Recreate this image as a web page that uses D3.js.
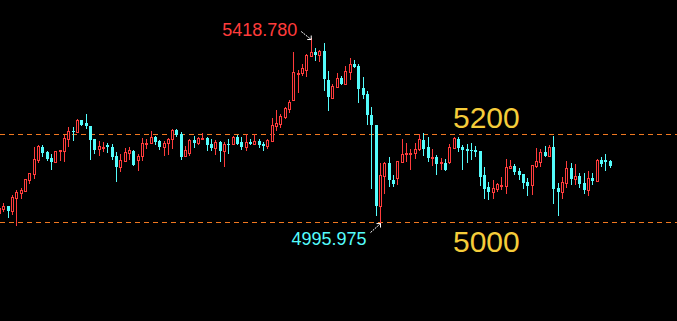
<!DOCTYPE html>
<html><head><meta charset="utf-8">
<script src="https://cdn.jsdelivr.net/npm/d3@7"></script>
<style>html,body{margin:0;padding:0;background:#000;overflow:hidden}svg{display:block}</style>
</head><body><svg id="c" width="677" height="321"></svg>
<script>
const opens=[5021.8,5030.2,5036.3,5026.3,5055.9,5066.6,5071.8,5096.8,5109.1,5141.6,5171.8,5159.1,5146.1,5137.7,5161.3,5162.7,5190.0,5206.8,5205.9,5231.8,5225.0,5218.8,5189.3,5165.9,5169.5,5175.0,5171.1,5150.0,5125.7,5140.0,5158.2,5162.0,5142.3,5151.3,5178.6,5180.2,5193.8,5184.7,5171.8,5180.2,5188.6,5209.7,5200.7,5151.3,5156.8,5187.0,5180.9,5190.0,5191.6,5177.9,5169.5,5182.5,5162.7,5178.6,5178.6,5193.8,5182.5,5171.8,5183.2,5178.0,5184.7,5178.6,5174.1,5185.4,5219.5,5223.4,5238.6,5257.5,5277.2,5337.0,5340.0,5346.8,5378.6,5387.0,5380.2,5390.0,5323.4,5283.1,5308.2,5328.6,5315.0,5342.3,5360.4,5355.2,5305.2,5290.9,5243.8,5221.1,5037.7,5105.9,5135.4,5096.1,5101.3,5137.7,5154.5,5154.5,5158.2,5165.9,5187.0,5171.8,5146.1,5148.4,5134.1,5135.4,5137.7,5169.5,5189.3,5171.1,5167.3,5165.0,5164.3,5162.0,5107.5,5080.9,5069.5,5075.7,5082.5,5083.2,5124.1,5127.9,5116.6,5109.1,5091.6,5084.1,5128.6,5137.7,5159.1,5151.3,5171.1,5077.3,5069.5,5090.0,5123.4,5099.1,5105.2,5089.3,5073.4,5100.7,5094.5,5141.6,5141.6,5139.3];
const highs=[5039.3,5043.2,5036.3,5062.0,5073.4,5078.6,5098.5,5112.0,5171.1,5176.3,5176.3,5161.3,5154.5,5162.0,5164.0,5199.1,5215.9,5215.9,5234.1,5232.5,5246.1,5219.0,5189.5,5184.1,5182.5,5179.5,5177.3,5159.1,5155.2,5168.8,5171.1,5164.3,5155.2,5191.6,5188.6,5207.5,5196.1,5187.0,5185.4,5191.6,5212.0,5212.0,5205.2,5173.4,5190.0,5196.1,5193.8,5202.9,5193.8,5189.3,5187.0,5184.7,5182.5,5189.3,5196.1,5198.4,5193.8,5200.0,5190.0,5200.0,5189.3,5181.8,5189.3,5237.0,5255.2,5246.8,5262.7,5277.9,5387.0,5346.1,5359.7,5383.2,5418.78,5396.1,5392.2,5407.5,5343.8,5313.6,5339.3,5332.5,5355.2,5373.4,5368.8,5359.7,5330.9,5298.4,5262.0,5222.0,5134.1,5136.0,5147.7,5107.5,5140.0,5189.3,5180.2,5166.6,5180.9,5200.7,5203.6,5193.2,5166.6,5152.9,5145.4,5143.8,5178.6,5193.2,5193.2,5176.3,5178.6,5180.2,5172.7,5163.0,5125.7,5091.6,5096.1,5088.6,5102.9,5143.8,5141.6,5132.5,5123.4,5110.0,5100.0,5130.0,5168.2,5166.6,5173.4,5175.7,5196.1,5088.6,5102.9,5139.3,5134.8,5132.5,5112.0,5112.0,5116.6,5112.0,5143.8,5148.4,5155.2,5140.9];
const lows=[5018.8,5025.6,5012.4,5018.8,4993.0,5055.9,5071.0,5090.0,5099.9,5137.7,5151.3,5141.6,5121.8,5137.0,5141.6,5140.0,5174.1,5187.0,5205.0,5220.0,5215.0,5143.8,5158.2,5153.6,5162.0,5160.4,5144.5,5094.5,5117.3,5139.0,5143.8,5130.0,5118.8,5141.6,5169.5,5180.0,5177.2,5166.6,5152.9,5155.9,5169.5,5196.1,5143.8,5151.0,5153.6,5171.8,5177.9,5190.0,5164.3,5164.3,5155.2,5139.3,5128.6,5158.2,5178.0,5178.0,5166.6,5165.0,5178.0,5178.0,5171.1,5165.0,5168.8,5185.0,5209.7,5217.3,5236.3,5250.0,5277.0,5296.8,5334.8,5332.5,5378.0,5369.5,5367.2,5301.3,5255.2,5283.0,5308.0,5314.0,5315.0,5326.3,5352.5,5274.1,5283.2,5222.7,5077.9,5016.6,4995.975,5065.9,5083.2,5082.5,5086.4,5137.0,5139.3,5121.8,5146.8,5165.0,5152.9,5140.0,5129.5,5109.1,5121.1,5119.0,5134.1,5169.0,5162.7,5120.4,5136.4,5144.5,5151.3,5084.8,5055.2,5052.3,5055.9,5071.8,5075.0,5067.3,5124.0,5109.1,5097.7,5077.3,5062.0,5064.3,5125.0,5128.6,5151.0,5151.0,5044.5,5016.6,5055.9,5081.0,5086.4,5086.4,5080.9,5067.3,5062.7,5087.0,5094.0,5127.9,5118.8,5126.6];
const closes=[5033.2,5036.3,5025.6,5056.8,5068.8,5073.4,5097.7,5111.3,5143.2,5173.4,5156.8,5143.8,5137.0,5161.3,5163.6,5191.6,5206.8,5204.5,5231.8,5221.1,5218.8,5187.7,5164.3,5173.4,5171.8,5170.4,5149.1,5125.7,5141.6,5159.8,5164.3,5130.2,5150.7,5180.2,5180.9,5193.8,5181.8,5171.1,5180.2,5189.3,5209.7,5199.1,5148.4,5164.3,5187.7,5180.2,5191.6,5191.6,5176.3,5169.5,5182.5,5162.7,5177.9,5176.3,5193.8,5178.6,5171.8,5183.2,5178.0,5184.7,5175.7,5174.1,5187.0,5221.1,5225.7,5242.2,5259.7,5274.1,5341.6,5339.3,5350.7,5380.9,5387.0,5380.2,5390.0,5326.4,5284.8,5310.4,5327.9,5314.3,5343.8,5359.7,5352.9,5303.6,5289.3,5243.8,5221.1,5037.7,5107.5,5135.4,5096.1,5087.0,5139.3,5154.5,5156.8,5158.2,5166.6,5189.3,5165.9,5145.4,5148.4,5131.8,5136.4,5119.5,5171.8,5191.6,5169.5,5165.0,5162.7,5162.7,5159.8,5102.2,5075.7,5069.5,5077.3,5086.4,5084.8,5125.7,5127.9,5113.6,5107.5,5089.3,5083.2,5129.5,5138.6,5159.1,5151.3,5171.1,5075.7,5069.5,5091.6,5123.4,5098.4,5105.2,5087.0,5073.4,5100.7,5093.8,5141.6,5132.5,5137.7,5127.9];
const levels=[5200,5000];
const levelLabels=["5200","5000"];
const highLabel="5418.780", lowLabel="4995.975";

const W=677,H=321;
const UP="#ff3c3c", DOWN="#54fcfc", DASH="#f07820", GOLD="#f5cc3a";
const svg=d3.select("#c");
svg.append("rect").attr("width",W).attr("height",H).attr("fill","#000");
const n=opens.length;
const x=d3.scaleLinear().domain([0,n-1]).range([-1.03,609.5]);
const y=d3.scaleLinear().domain([4775.7,5505.2]).range([H,0]);

// level lines
svg.selectAll("line.lvl").data(levels).join("line").attr("class","lvl")
  .attr("x1",0).attr("x2",W)
  .attr("y1",d=>Math.round(y(d))+0.5).attr("y2",d=>Math.round(y(d))+0.5)
  .attr("stroke",DASH).attr("stroke-width",1).attr("stroke-dasharray","5,4");

const data=d3.range(n).map(i=>({i,o:opens[i],h:highs[i],l:lows[i],c:closes[i]}));
const g=svg.append("g").attr("shape-rendering","crispEdges");
const cand=g.selectAll("g.k").data(data).join("g").attr("class","k");
cand.append("line")
  .attr("x1",d=>Math.round(x(d.i))+0.5).attr("x2",d=>Math.round(x(d.i))+0.5)
  .attr("y1",d=>Math.round(y(d.h))).attr("y2",d=>Math.round(y(d.l))+1)
  .attr("stroke",d=>d.c>=d.o?UP:DOWN).attr("stroke-width",1);
cand.each(function(d){
  const sel=d3.select(this);
  const cx=Math.round(x(d.i));
  const t=Math.round(y(Math.max(d.o,d.c))), b=Math.round(y(Math.min(d.o,d.c)));
  if(d.c>=d.o){
    sel.append("rect").attr("x",cx-0.5).attr("y",t+0.5).attr("width",2).attr("height",Math.max(b-t,1))
      .attr("fill","#000").attr("stroke",UP).attr("stroke-width",1);
  } else {
    sel.append("rect").attr("x",cx-1).attr("y",t).attr("width",3).attr("height",Math.max(b-t,1))
      .attr("fill",DOWN);
  }
});

// level labels
svg.append("text").attr("x",453).attr("y",y(levels[0])-6).text(levelLabels[0])
  .attr("fill",GOLD).attr("font-family","Liberation Sans, Arial, sans-serif").attr("font-size",30);
svg.append("text").attr("x",453).attr("y",y(levels[1])+30).text(levelLabels[1])
  .attr("fill",GOLD).attr("font-family","Liberation Sans, Arial, sans-serif").attr("font-size",30);

// high / low annotations
const hi=d3.maxIndex(highs), lo=d3.minIndex(lows.map((v,i)=>i<10?Infinity:v));
function arrow(tx,ty,sx,sy,dx,dy){
  svg.append("line").attr("x1",sx).attr("y1",sy).attr("x2",tx).attr("y2",ty)
    .attr("stroke","#fff").attr("stroke-width",1).attr("stroke-dasharray","2,1");
  svg.append("path").attr("d",`M${tx+dx*4},${ty} L${tx},${ty} L${tx},${ty+dy*4}`)
    .attr("fill","none").attr("stroke","#fff").attr("stroke-width",1);
}
const hx=x(hi)+0.5, hy=y(highs[hi])+1.5;
arrow(hx,hy,hx-10,hy-8,-1,-1);
svg.append("text").attr("x",hx-14).attr("y",hy-4).attr("text-anchor","end").text(highLabel)
  .attr("fill",UP).attr("font-family","Liberation Sans, Arial, sans-serif").attr("font-size",18);
const lx=x(lo)+0.5, ly=y(lows[lo])-0.5;
arrow(lx,ly,lx-10,ly+9,-1,1);
svg.append("text").attr("x",lx-14).attr("y",ly+21).attr("text-anchor","end").text(lowLabel)
  .attr("fill",DOWN).attr("font-family","Liberation Sans, Arial, sans-serif").attr("font-size",18);
</script></body></html>
